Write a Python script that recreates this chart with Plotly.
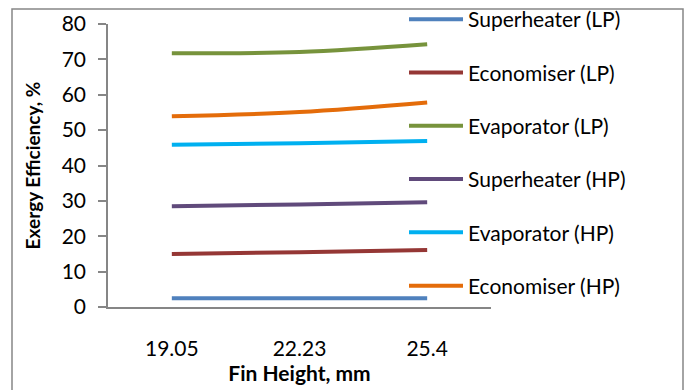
import plotly.graph_objects as go

fin_height = ["19.05", "22.23", "25.4"]
superheater_lp = [2.5, 2.5, 2.5]
economiser_lp = [15.0, 15.5, 16.1]
evaporator_lp = [71.7, 72.1, 74.3]
superheater_hp = [28.5, 29.0, 29.6]
evaporator_hp = [45.9, 46.3, 46.9]
economiser_hp = [53.9, 55.1, 57.8]

series = [
    ("Superheater (LP)", superheater_lp, "#4F81BD"),
    ("Economiser (LP)", economiser_lp, "#953735"),
    ("Evaporator (LP)", evaporator_lp, "#77933C"),
    ("Superheater (HP)", superheater_hp, "#604A7B"),
    ("Evaporator (HP)", evaporator_hp, "#00B0F0"),
    ("Economiser (HP)", economiser_hp, "#E46C0A"),
]

FONT = "Lato"
fig = go.Figure()
for i, (name, vals, col) in enumerate(series):
    fig.add_trace(go.Scatter(
        x=fin_height, y=vals, name=name, mode="lines",
        line=dict(color=col, width=4, shape="spline"),
        legendgroup=f"g{i}",
    ))

L, R, T, B = 108, 195, 24, 83
W, H = 686, 390
pw, ph = W - L - R, H - T - B

def px_x(x):
    return (x - L) / pw

def px_y(y):
    return (H - B - y) / ph

fig.add_shape(type="rect", xref="paper", yref="paper",
              x0=px_x(12), x1=px_x(683), y0=px_y(398), y1=px_y(9),
              line=dict(color="#868686", width=1.5), layer="below")

fig.update_layout(
    width=W, height=H,
    margin=dict(l=L, r=R, t=T, b=B, autoexpand=False),
    paper_bgcolor="white", plot_bgcolor="white",
    font=dict(family=FONT, size=20, color="black"),
    showlegend=True,
    legend=dict(
        x=px_x(404), y=px_y(-1), xanchor="left", yanchor="top",
        bgcolor="rgba(0,0,0,0)", font=dict(family=FONT, size=21),
        tracegroupgap=23, itemwidth=54, maxheight=600,
    ),
    xaxis=dict(
        type="category", range=[-0.5, 2.5], automargin=False,
        showline=True, linecolor="#868686", linewidth=1.5,
        showgrid=False, ticks="", zeroline=False,
        tickfont=dict(size=21), ticklabelstandoff=22,
        title=dict(text="<b>Fin Height, mm</b>", font=dict(size=21), standoff=6),
    ),
    yaxis=dict(
        range=[0, 80], dtick=10, automargin=False,
        showline=True, linecolor="#868686", linewidth=1.5,
        showgrid=False, ticks="outside", ticklen=8, tickcolor="#868686",
        tickwidth=1.5, zeroline=False, tickfont=dict(size=21),
        ticklabelstandoff=8,
        title=dict(text="<b>Exergy Efficiency, %</b>", font=dict(size=19), standoff=16),
    ),
)

fig.write_html("out.html")
